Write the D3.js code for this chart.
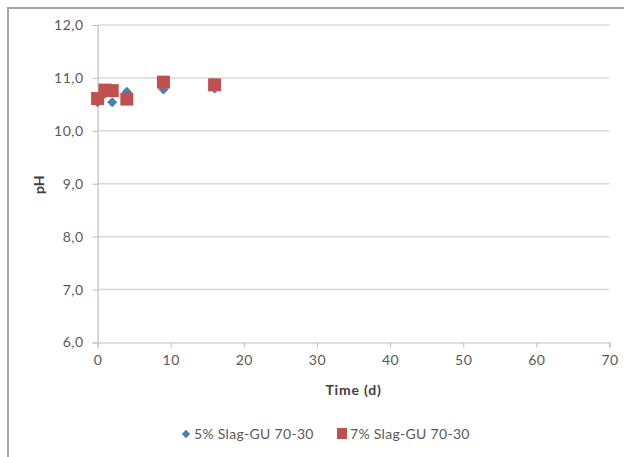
<!DOCTYPE html>
<html>
<head>
<meta charset="utf-8">
<script src="https://cdn.jsdelivr.net/npm/d3@7"></script>
<style>
  html, body { margin: 0; padding: 0; background: #fff; }
  svg { display: block; }
</style>
</head>
<body>
<svg id="chart" width="624" height="457"></svg>
<script>
// pH over time for two slag-GU 70-30 mixes
const timeDays = [0, 1, 2, 4, 9, 16];
const ph5 = [10.54, 10.70, 10.54, 10.74, 10.78, 10.80];
const ph7 = [10.61, 10.77, 10.76, 10.60, 10.92, 10.87];
const seriesNames = ["5% Slag-GU 70-30", "7% Slag-GU 70-30"];
const xTicks = [0, 10, 20, 30, 40, 50, 60, 70];
const yTicks = [6, 7, 8, 9, 10, 11, 12];

const svg = d3.select("#chart");
const W = 624, H = 457;
const font = "Lato, 'Open Sans', sans-serif";
const blue = "#4a7ebb", red = "#c0504d";

// outer chart frame (top and left edges visible)
svg.append("path")
  .attr("d", `M8,${H} L8,8 L${W},8`)
  .attr("fill", "none").attr("stroke", "#a6a6a6").attr("stroke-width", 2);

const plot = { left: 97.6, right: 609.5, top: 25, bottom: 342.5 };
const x = d3.scaleLinear().domain([0, 70]).range([plot.left, plot.right]);
const y = d3.scaleLinear().domain([6, 12]).range([plot.bottom, plot.top]);

// horizontal gridlines
svg.append("g").selectAll("line")
  .data(yTicks.filter(v => v > 6))
  .join("line")
  .attr("x1", plot.left).attr("x2", plot.right)
  .attr("y1", d => y(d)).attr("y2", d => y(d))
  .attr("stroke", "#d9d9d9").attr("stroke-width", 1.5);

const fmt = d => d.toFixed(1).replace(".", ",");

// y axis
const yAxis = svg.append("g")
  .attr("transform", `translate(${plot.left},0)`)
  .call(d3.axisLeft(y).tickValues(yTicks).tickFormat(fmt).tickSize(5).tickPadding(9));
yAxis.select(".domain").attr("stroke", "#bfbfbf").attr("stroke-width", 1.2);
yAxis.selectAll(".tick line").attr("stroke", "#bfbfbf");
yAxis.selectAll("text").attr("fill", "#595959").style("font", `14px ${font}`)
  .style("letter-spacing", "0.5px");

// x axis
const xAxis = svg.append("g")
  .attr("transform", `translate(0,${plot.bottom})`)
  .call(d3.axisBottom(x).tickValues(xTicks).tickFormat(d3.format("d")).tickSize(5).tickPadding(8));
xAxis.select(".domain").attr("stroke", "#bfbfbf").attr("stroke-width", 1.2);
xAxis.selectAll(".tick line").attr("stroke", "#bfbfbf");
xAxis.selectAll("text").attr("fill", "#595959").style("font", `14px ${font}`)
  .style("letter-spacing", "0.5px");

// axis titles
svg.append("text")
  .attr("x", (plot.left + plot.right) / 2).attr("y", 395)
  .attr("text-anchor", "middle")
  .attr("fill", "#404040").style("font", `bold 14px ${font}`)
  .style("letter-spacing", "0.8px")
  .text("Time (d)");
svg.append("text")
  .attr("transform", `translate(44,${(plot.top + plot.bottom) / 2 + 1}) rotate(-90)`)
  .attr("text-anchor", "middle")
  .attr("fill", "#404040").style("font", `bold 14px ${font}`)
  .text("pH");

const diamond = d3.symbol().type(d3.symbolDiamond2).size(64);

// 5% series: diamonds
svg.append("g").selectAll("path")
  .data(timeDays.map((t, i) => [t, ph5[i]]))
  .join("path")
  .attr("d", diamond)
  .attr("transform", d => `translate(${x(d[0])},${y(d[1])})`)
  .attr("fill", blue);

// 7% series: squares
const sq = 13;
svg.append("g").selectAll("rect")
  .data(timeDays.map((t, i) => [t, ph7[i]]))
  .join("rect")
  .attr("x", d => x(d[0]) - sq / 2).attr("y", d => y(d[1]) - sq / 2)
  .attr("width", sq).attr("height", sq)
  .attr("fill", red);

// legend
const lg = svg.append("g");
lg.append("path").attr("d", d3.symbol().type(d3.symbolDiamond2).size(44))
  .attr("transform", "translate(186,434)").attr("fill", blue);
lg.append("text").attr("x", 194).attr("y", 439)
  .attr("fill", "#595959").style("font", `14px ${font}`).style("letter-spacing", "0.3px")
  .text(seriesNames[0]);
lg.append("rect").attr("x", 337).attr("y", 428).attr("width", 10).attr("height", 11).attr("fill", red);
lg.append("text").attr("x", 350).attr("y", 439)
  .attr("fill", "#595959").style("font", `14px ${font}`).style("letter-spacing", "0.3px")
  .text(seriesNames[1]);
</script>
</body>
</html>
